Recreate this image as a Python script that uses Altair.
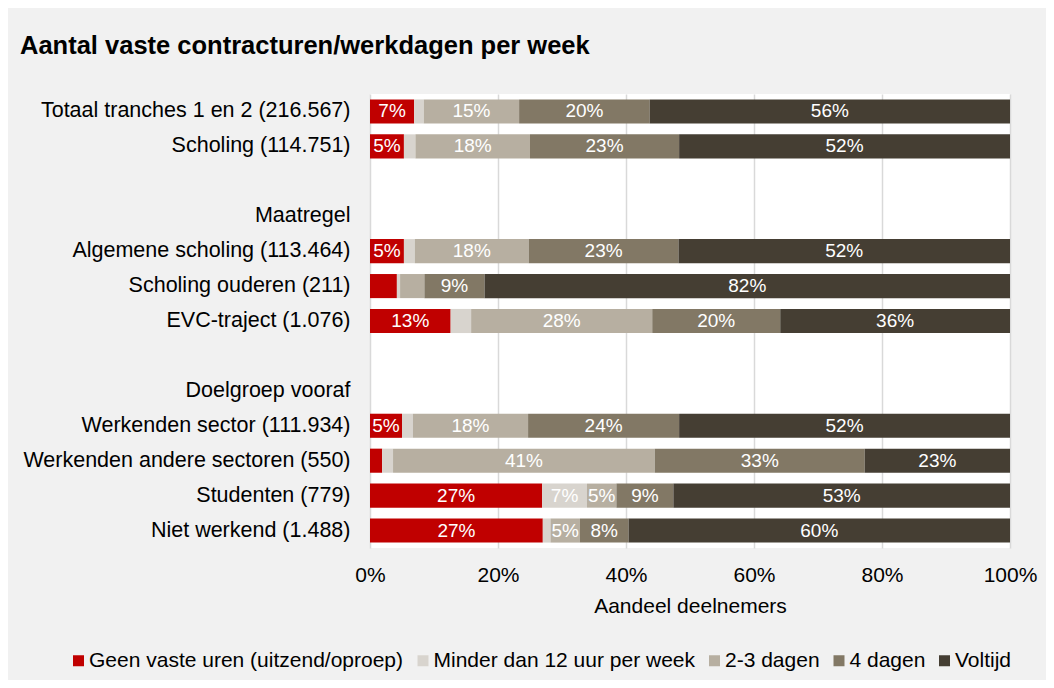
import altair as alt
import pandas as pd

rows = ["Totaal tranches 1 en 2 (216.567)", "Scholing (114.751)", " ", "Maatregel",
        "Algemene scholing (113.464)", "Scholing ouderen (211)", "EVC-traject (1.076)", "  ",
        "Doelgroep vooraf", "Werkenden sector (111.934)", "Werkenden andere sectoren (550)",
        "Studenten (779)", "Niet werkend (1.488)"]

data_rows = ["Totaal tranches 1 en 2 (216.567)", "Scholing (114.751)",
             "Algemene scholing (113.464)", "Scholing ouderen (211)", "EVC-traject (1.076)",
             "Werkenden sector (111.934)", "Werkenden andere sectoren (550)",
             "Studenten (779)", "Niet werkend (1.488)"]

categories = ["Geen vaste uren (uitzend/oproep)", "Minder dan 12 uur per week",
              "2-3 dagen", "4 dagen", "Voltijd"]
colors = ["#C00000", "#D8D4CE", "#B7AFA1", "#827865", "#453E33"]

geen = [6.9, 5.3, 5.3, 4.2, 12.6, 5.0, 1.9, 26.9, 27.0]
minder = [1.5, 1.8, 1.7, 0.5, 3.2, 1.7, 1.7, 7.0, 1.2]
dagen23 = [14.9, 17.9, 17.8, 3.8, 28.3, 18.0, 40.9, 4.6, 4.6]
dagen4 = [20.4, 23.3, 23.4, 9.4, 20.0, 23.6, 32.8, 8.9, 7.6]
voltijd = [56.3, 51.7, 51.8, 82.1, 35.9, 51.7, 22.7, 52.6, 59.6]

series = [geen, minder, dagen23, dagen4, voltijd]
recs = []
for ci, (cat, vals) in enumerate(zip(categories, series)):
    for r, v in zip(data_rows, vals):
        recs.append({"row": r, "cat": cat, "order": ci, "value": v})
df = pd.DataFrame(recs)

FONT = "Liberation Sans"

base = alt.Chart(df).transform_stack(
    stack="value", groupby=["row"], sort=[alt.SortField("order")], as_=["x0", "x1"]
).transform_calculate(
    mid="(datum.x0 + datum.x1) / 2",
    lbl="datum.value >= 4.5 ? round(datum.value) + '%' : ''"
)

yenc = alt.Y("row:N", scale=alt.Scale(domain=rows, paddingInner=0.31, paddingOuter=0.155),
             axis=alt.Axis(title=None, labelFontSize=21.5, labelColor="#000000", labelFont=FONT,
                           ticks=False, domain=False, labelPadding=20, labelLimit=400))

bars = base.mark_bar().encode(
    x=alt.X("x0:Q", scale=alt.Scale(domain=[0, 100]),
            axis=alt.Axis(values=[0, 20, 40, 60, 80, 100], labelExpr="datum.value + '%'",
                          title="Aandeel deelnemers", titleFontSize=21, titleFontWeight="normal",
                          titleFont=FONT, titleColor="#000000", labelFont=FONT,
                          labelFontSize=21, labelColor="#000000", ticks=False, domain=False,
                          labelFlush=False, labelPadding=16, titlePadding=10, grid=True,
                          gridColor="#D9D9D9", gridWidth=1.5)),
    x2="x1:Q",
    y=yenc,
    color=alt.Color("cat:N", scale=alt.Scale(domain=categories, range=colors),
                    legend=alt.Legend(title=None, orient="none", direction="horizontal",
                                      legendX=-302, legendY=556, symbolType="square",
                                      symbolSize=121, symbolStrokeWidth=0, labelFontSize=21,
                                      labelFont=FONT, labelColor="#000000", labelOffset=0,
                                      columnPadding=8.5, labelLimit=500)),
    order=alt.Order("order:Q"),
)

labels = base.mark_text(color="white", fontSize=19, font=FONT).encode(
    x=alt.X("mid:Q"),
    y=alt.Y("row:N", scale=alt.Scale(domain=rows)),
    text="lbl:N",
)

chart = alt.layer(bars, labels).properties(
    width=640, height=454,
    title=alt.Title("Aantal vaste contracturen/werkdagen per week", anchor="start",
                    frame="group", fontSize=25.5, fontWeight="bold", font=FONT,
                    color="#000000", dx=-350, offset=35),
    autosize=alt.AutoSizeParams(type="none"),
    padding={"left": 362, "top": 86, "right": 36, "bottom": 132},
    background="#F1F1F1",
).configure_view(fill="white", stroke=None)

chart.save("out.html", embed_options={"renderer": "svg", "actions": False})
